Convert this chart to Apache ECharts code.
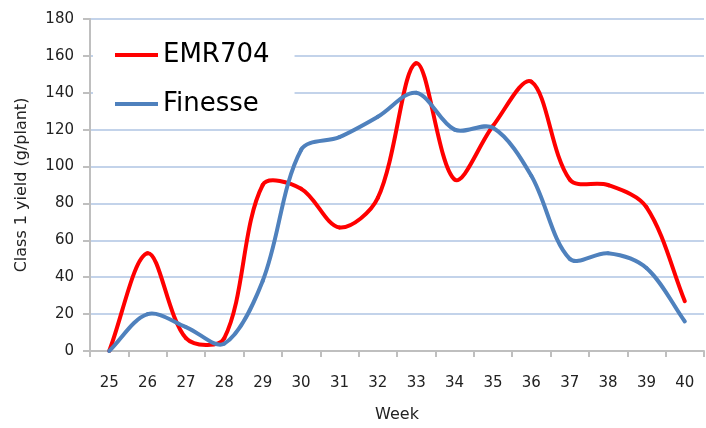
<!DOCTYPE html>
<html>
<head>
<meta charset="UTF-8">
<script src="https://cdn.jsdelivr.net/npm/echarts@6/dist/echarts.min.js"></script>
<style>
  html, body { margin: 0; padding: 0; background: #fff; }
  #chart { width: 706px; height: 428px; }
</style>
</head>
<body>
<div id="chart"></div>
<script>
// weeks and yields (g/plant)
const weeks = ['25', '26', '27', '28', '29', '30', '31', '32', '33', '34', '35', '36', '37', '38', '39', '40'];
const emr704 = [0, 53, 7, 7, 90, 88, 67, 83, 156, 93, 122, 146, 93, 90, 78, 27];
const finesse = [0, 20, 13, 4, 38, 109, 116, 127, 140, 120, 121, 95, 50, 53, 45, 16];

const font = 'DejaVu Sans';
const chart = echarts.init(document.getElementById('chart'));

// Excel-like smoothed line: one cubic segment per point.
// Control points follow the neighbours (like Catmull-Rom) but are scaled by segment
// length, and are not clamped like echarts' own smooth, so dips/overshoots remain.
const K = 1 / 3;
function smoothSegment(values, color) {
  return function (params, api) {
    const i = params.dataIndex;
    const n = values.length;
    if (i >= n - 1) return null;
    const pt = j => {
      const k = Math.max(0, Math.min(n - 1, j));
      return api.coord([k, values[k]]);
    };
    const dist = (a, b) => Math.hypot(a[0] - b[0], a[1] - b[1]);
    const p0 = pt(i - 1), p1 = pt(i), p2 = pt(i + 1), p3 = pt(i + 2);
    const d01 = dist(p0, p1), d12 = dist(p1, p2), d23 = dist(p2, p3);
    const f1 = d01 + d12 > 0 ? K * d12 / (d01 + d12) : 0;
    const f2 = d12 + d23 > 0 ? K * d12 / (d12 + d23) : 0;
    return {
      type: 'bezierCurve',
      shape: {
        x1: p1[0], y1: p1[1],
        cpx1: p1[0] + (p2[0] - p0[0]) * f1, cpy1: p1[1] + (p2[1] - p0[1]) * f1,
        cpx2: p2[0] - (p3[0] - p1[0]) * f2, cpy2: p2[1] - (p3[1] - p1[1]) * f2,
        x2: p2[0], y2: p2[1]
      },
      style: { stroke: color, lineWidth: 4, fill: null, lineCap: 'round' }
    };
  };
}

function makeSeries(name, values, color) {
  return {
    name: name,
    type: 'custom',
    data: values.map((v, i) => [i, v]),
    encode: { x: 0, y: 1 },
    itemStyle: { color: color },
    renderItem: smoothSegment(values, color)
  };
}

chart.setOption({
  animation: false,
  grid: { left: 90, right: 2, top: 19, bottom: 76 },
  legend: {
    orient: 'vertical',
    left: 93,
    top: 34,
    padding: [8, 25, 8, 22],
    backgroundColor: '#fff',
    itemWidth: 43,
    itemHeight: 4,
    itemGap: 23,
    textStyle: { fontFamily: font, fontSize: 26, color: '#000' },
    data: [
      { name: 'EMR704', icon: 'rect' },
      { name: 'Finesse', icon: 'rect' }
    ]
  },
  xAxis: {
    type: 'category',
    data: weeks,
    boundaryGap: true,
    name: 'Week',
    nameLocation: 'middle',
    nameGap: 56,
    nameTextStyle: { fontFamily: font, fontSize: 16, color: '#222' },
    axisLine: { lineStyle: { color: '#bfbfbf', width: 2 } },
    axisTick: { show: true, length: 6, interval: 0, lineStyle: { color: '#bfbfbf', width: 2 } },
    axisLabel: { fontFamily: font, fontSize: 15, color: '#222', margin: 25, interval: 0 }
  },
  yAxis: {
    type: 'value',
    min: 0,
    max: 180,
    interval: 20,
    name: 'Class 1 yield (g/plant)',
    nameLocation: 'middle',
    nameGap: 60,
    nameTextStyle: { fontFamily: font, fontSize: 16, color: '#222' },
    axisLine: { show: true, lineStyle: { color: '#bfbfbf', width: 2 } },
    axisTick: { show: true, length: 7, lineStyle: { color: '#bfbfbf', width: 2 } },
    axisLabel: { fontFamily: font, fontSize: 15, color: '#222', margin: 16 },
    splitLine: { lineStyle: { color: '#c3d3ea', width: 2 } }
  },
  series: [
    makeSeries('EMR704', emr704, '#ff0000'),
    makeSeries('Finesse', finesse, '#4f81bd')
  ]
});
</script>
</body>
</html>
